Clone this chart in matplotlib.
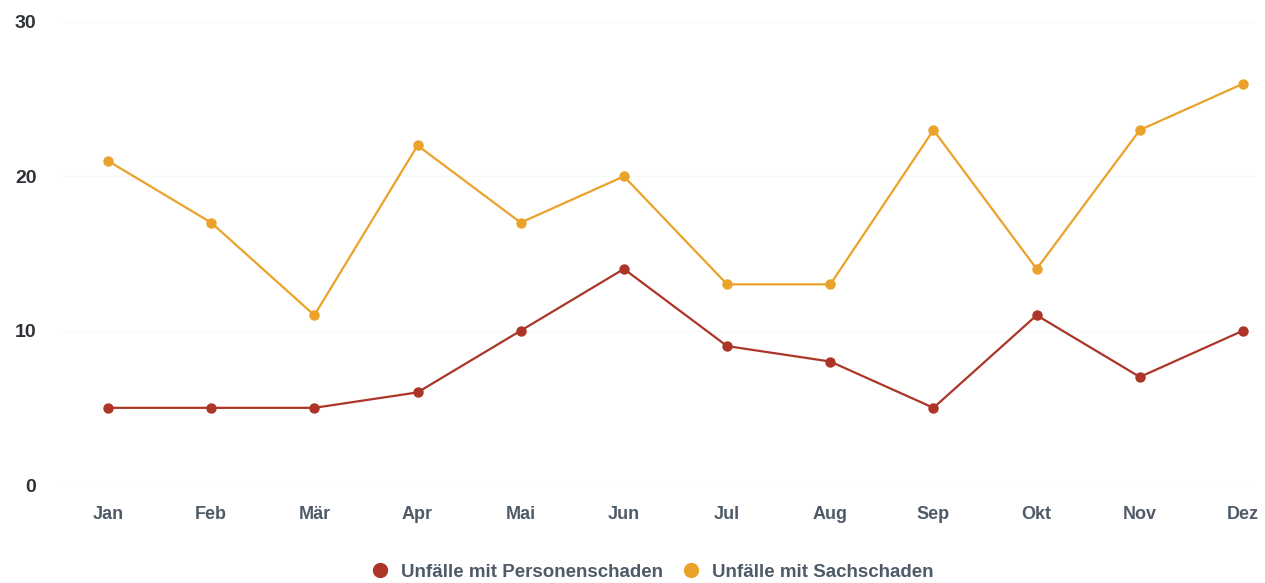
import matplotlib
matplotlib.use("Agg")
import matplotlib.pyplot as plt
from matplotlib.lines import Line2D

months = ["Jan", "Feb", "Mär", "Apr", "Mai", "Jun", "Jul", "Aug", "Sep", "Okt", "Nov", "Dez"]
personen = [5, 5, 5, 6, 10, 14, 9, 8, 5, 11, 7, 10]
sach = [21, 17, 11, 22, 17, 20, 13, 13, 23, 14, 23, 26]
y_ticks = [0, 10, 20, 30]

red = "#ac3527"
orange = "#eba22a"
label_col = "#4f5b69"

plt.rcParams["font.family"] = ["Liberation Sans", "DejaVu Sans"]

fig = plt.figure(figsize=(12.65, 5.83), dpi=100)
ax = fig.add_axes((60 / 1265, 98 / 583, 1195 / 1265, 463 / 583))

x = range(len(months))
ax.plot(x, personen, color=red, lw=1.6, marker="o", ms=6.5, zorder=3)
ax.plot(x, sach, color=orange, lw=1.6, marker="o", ms=6.5, zorder=3)

ax.set_xlim(-0.465, 11.116)
ax.set_ylim(0, 30)
ax.set_yticks(y_ticks)
ax.set_xticks(list(x))
ax.set_xticklabels(months)
ax.grid(axis="y", color="#f8f8f8", lw=0.8)
ax.set_axisbelow(True)
for s in ax.spines.values():
    s.set_visible(False)
ax.tick_params(axis="both", length=0)
ax.tick_params(axis="x", pad=15, labelsize=13, labelcolor=label_col)
ax.tick_params(axis="y", pad=17, labelsize=14, labelcolor="#2f3338")
for t in ax.get_xticklabels() + ax.get_yticklabels():
    t.set_fontweight("bold")

handles = [
    Line2D([], [], ls="none", marker="o", ms=10, color=red, label="Unfälle mit Personenschaden"),
    Line2D([], [], ls="none", marker="o", ms=10, color=orange, label="Unfälle mit Sachschaden"),
]
leg = fig.legend(handles=handles, loc="center", bbox_to_anchor=(652 / 1265, 1 - 572 / 583),
                 ncol=2, frameon=False, fontsize=13.5, handletextpad=0.6, columnspacing=1.0,
                 handlelength=1.0)
for t in leg.get_texts():
    t.set_color(label_col)
    t.set_fontweight("bold")

fig.savefig("out.png", dpi=100)
